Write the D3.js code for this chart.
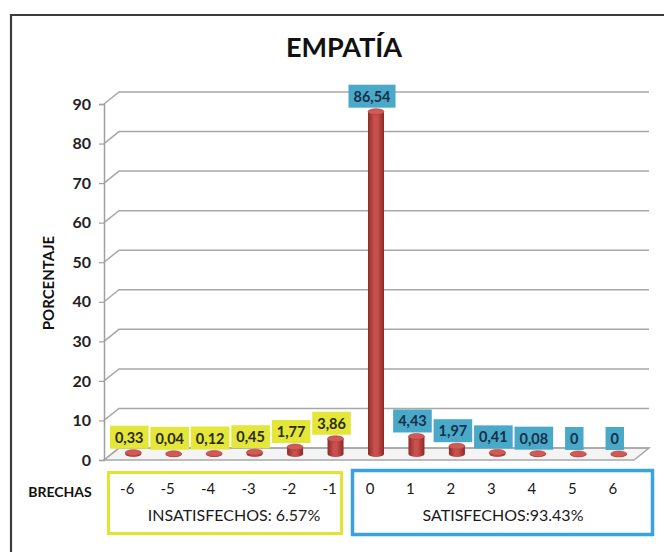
<!DOCTYPE html>
<html>
<head>
<meta charset="utf-8">
<script src="https://cdn.jsdelivr.net/npm/d3@7"></script>
<style>
  html, body { margin: 0; padding: 0; background: #fff; }
  svg { display: block; font-family: Lato, "Open Sans", sans-serif; }
</style>
</head>
<body>
<svg id="chart" width="664" height="552"></svg>
<script>
// ---- data ----
const categories = ["-6","-5","-4","-3","-2","-1","0","1","2","3","4","5","6"];
const values = [0.33, 0.04, 0.12, 0.45, 1.77, 3.86, 86.54, 4.43, 1.97, 0.41, 0.08, 0, 0];
const valueLabels = ["0,33","0,04","0,12","0,45","1,77","3,86","86,54","4,43","1,97","0,41","0,08","0","0"];
const yTicks = [0, 10, 20, 30, 40, 50, 60, 70, 80, 90];
const title = "EMPATÍA";
const yTitle = "PORCENTAJE";
const xTitle = "BRECHAS";
const groupInsat = "INSATISFECHOS: 6.57%";
const groupSat = "SATISFECHOS:93.43%";

// ---- layout ----
const svg = d3.select("#chart");
const x = d3.scaleBand().domain(categories).range([107, 633]).padding(0);
const y = d3.scaleLinear().domain([0, 90]).range([460, 104]);
const DX = 15, DY = -12;         // depth offset (back wall)
const MX = 6, MY = -6;           // bar depth (mid)
const plotLeft = 104, plotRight = 634;

// frame
svg.append("path").attr("d", "M11,560 L11,15 L670,15")
  .attr("fill", "none").attr("stroke", "#3c3c3c").attr("stroke-width", 2.2);

// title
svg.append("text").attr("x", 344).attr("y", 57).attr("text-anchor", "middle")
  .attr("font-size", 27).attr("font-weight", 700).attr("fill", "#111").text(title);

// floor
svg.append("path")
  .attr("d", `M${plotLeft},${y(0)} L${plotRight},${y(0)} L${plotRight+DX},${y(0)+DY} L${plotLeft+DX},${y(0)+DY} Z`)
  .attr("fill", "#f4f4f4").attr("stroke", "#a8a8a8").attr("stroke-width", 1.5);

// gridlines (left wall + back wall)
svg.append("g").selectAll("path").data(yTicks).join("path")
  .attr("d", d => `M${plotLeft},${y(d)} L${plotLeft+DX},${y(d)+DY} L${plotRight+DX},${y(d)+DY}`)
  .attr("fill", "none").attr("stroke", "#a8a8a8").attr("stroke-width", 1.5);

// y axis
const yAxis = d3.axisLeft(y).tickValues(yTicks).tickSize(5).tickPadding(8);
const gy = svg.append("g").attr("transform", `translate(${plotLeft},0)`).call(yAxis);
gy.select(".domain").attr("stroke", "#a0a0a0").attr("stroke-width", 1.5);
gy.selectAll(".tick line").attr("stroke", "#a0a0a0").attr("stroke-width", 1.2);
gy.selectAll(".tick text").attr("font-size", 16).attr("font-weight", 700)
  .attr("fill", "#222").attr("font-family", "Lato, sans-serif");

// y title
svg.append("text").attr("transform", "translate(54,283) rotate(-90)")
  .attr("text-anchor", "middle").attr("font-size", 15).attr("font-weight", 700)
  .attr("fill", "#111").text(yTitle);

// bar gradient
const defs = svg.append("defs");
const grad = defs.append("linearGradient").attr("id", "cyl").attr("x1", "0").attr("x2", "1").attr("y1", "0").attr("y2", "0");
grad.append("stop").attr("offset", "0%").attr("stop-color", "#8e2b29");
grad.append("stop").attr("offset", "40%").attr("stop-color", "#c9524f");
grad.append("stop").attr("offset", "60%").attr("stop-color", "#c64e4b");
grad.append("stop").attr("offset", "100%").attr("stop-color", "#8a2826");

const rx = 8, ry = 3;
const data = categories.map((c, i) => ({ c, v: values[i], label: valueLabels[i], i }));
const cx = d => x(d.c) + x.bandwidth() / 2 + MX;
const baseY = y(0) + MY;
const topY = d => y(d.v) + MY;

const bars = svg.append("g");
bars.selectAll("path.body").data(data).join("path").attr("class", "body")
  .attr("d", d => {
    const c = cx(d), t = topY(d), b = baseY;
    return `M${c-rx},${t} L${c-rx},${b} A${rx},${ry} 0 0 0 ${c+rx},${b} L${c+rx},${t} Z`;
  })
  .attr("fill", "url(#cyl)");
bars.selectAll("ellipse.top").data(data).join("ellipse").attr("class", "top")
  .attr("cx", cx).attr("cy", topY).attr("rx", rx).attr("ry", ry)
  .attr("fill", "#cf5a56").attr("stroke", "#a93a37").attr("stroke-width", 0.6);

// value labels
const lab = svg.append("g").selectAll("g").data(data).join("g");
lab.each(function(d) {
  const g = d3.select(this);
  const neg = +d.c < 0;
  const t = g.append("text").attr("text-anchor", "middle")
    .attr("font-size", 14.5).attr("font-weight", 700)
    .attr("fill", neg ? "#2b2b12" : "#15304a").text(d.label);
  const w = t.node().getComputedTextLength();
  const centerX = x(d.c) + x.bandwidth() / 2 + 2;
  const bottom = topY(d) - ry - 1;
  const h = 23, padX = 5;
  g.insert("rect", "text")
    .attr("x", centerX - w / 2 - padX).attr("y", bottom - h)
    .attr("width", w + 2 * padX).attr("height", h)
    .attr("fill", neg ? "#e4e63a" : "#4aa9c8");
  t.attr("x", centerX).attr("y", bottom - 6);
});

// x axis category labels
const xAxis = d3.axisBottom(x).tickSize(0).tickPadding(0);
const gx = svg.append("g").attr("transform", "translate(0,483)").call(xAxis);
gx.select(".domain").remove();
gx.selectAll(".tick text").attr("font-size", 15).attr("fill", "#1a1a1a")
  .attr("font-family", "Lato, sans-serif");

svg.append("text").attr("x", 60).attr("y", 497).attr("text-anchor", "middle")
  .attr("font-size", 14).attr("font-weight", 700).attr("fill", "#111").text(xTitle);

// group boxes
svg.append("rect").attr("x", 108.5).attr("y", 472.5).attr("width", 233).attr("height", 61)
  .attr("fill", "none").attr("stroke", "#e2e432").attr("stroke-width", 3);
svg.append("rect").attr("x", 352.5).attr("y", 470.5).attr("width", 300).attr("height", 64)
  .attr("fill", "none").attr("stroke", "#3aa2dc").attr("stroke-width", 3.5);

svg.append("text").attr("x", 234).attr("y", 521).attr("text-anchor", "middle")
  .attr("font-size", 16).attr("fill", "#1a1a1a").text(groupInsat);
svg.append("text").attr("x", 503).attr("y", 521).attr("text-anchor", "middle")
  .attr("font-size", 16).attr("fill", "#1a1a1a").text(groupSat);
</script>
</body>
</html>
